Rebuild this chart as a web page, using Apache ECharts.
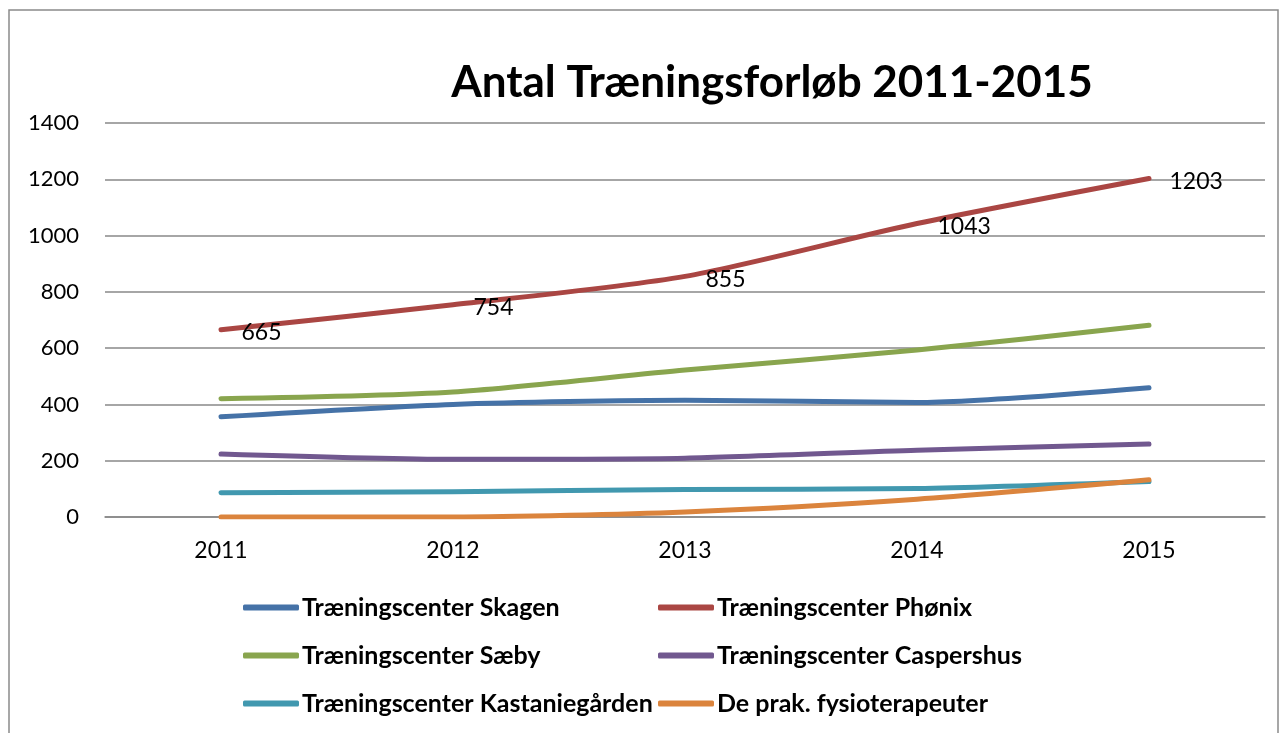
<!DOCTYPE html>
<html>
<head>
<meta charset="utf-8">
<script src="https://cdn.jsdelivr.net/npm/echarts@6/dist/echarts.min.js"></script>
<style>
  html, body { margin: 0; padding: 0; background: #fff; }
  #chart { width: 1284px; height: 733px; }
</style>
</head>
<body>
<div id="chart"></div>
<script>
// data
const years = ["2011", "2012", "2013", "2014", "2015"];
const skagen = [356, 400, 415, 407, 459];
const phonix = [665, 754, 855, 1043, 1203];
const saeby = [420, 444, 522, 593, 681];
const caspershus = [224, 205, 209, 237, 259];
const kastanie = [86, 90, 98, 101, 126];
const fysio = [0, 0, 18, 63, 132];

const FONT = "Lato";

const seriesDefs = [
  { name: "Træningscenter Skagen", data: skagen, color: "#4572A7" },
  { name: "Træningscenter Phønix", data: phonix, color: "#AA4643", labels: true },
  { name: "Træningscenter Sæby", data: saeby, color: "#89A54E" },
  { name: "Træningscenter Caspershus", data: caspershus, color: "#71588F" },
  { name: "Træningscenter Kastaniegården", data: kastanie, color: "#4198AF" },
  { name: "De prak. fysioterapeuter", data: fysio, color: "#DB843D" }
];

const legendBase = {
  orient: "vertical",
  top: 590,
  itemGap: 23,
  itemWidth: 56,
  itemHeight: 6,
  icon: "roundRect",
  textStyle: { fontFamily: FONT, fontWeight: "bold", fontSize: 25, color: "#000", padding: [0, 0, 0, -2] }
};

const chart = echarts.init(document.getElementById("chart"), null, { renderer: "canvas" });
chart.setOption({
  animation: false,
  title: {
    text: "Antal Træningsforløb 2011-2015",
    left: 767,
    textAlign: "center",
    top: 56,
    textStyle: { fontFamily: FONT, fontWeight: "bold", fontSize: 44, color: "#000" }
  },
  graphic: [{
    type: "rect",
    shape: { x: 9, y: 10, width: 1269, height: 740 },
    style: { fill: "none", stroke: "#8a8a8a", lineWidth: 1.5 },
    silent: true
  }],
  legend: [
    Object.assign({}, legendBase, { left: 238, data: [seriesDefs[0].name, seriesDefs[2].name, seriesDefs[4].name] }),
    Object.assign({}, legendBase, { left: 653, data: [seriesDefs[1].name, seriesDefs[3].name, seriesDefs[5].name] })
  ],
  grid: { left: 105, right: 19, top: 123, bottom: 216, containLabel: false },
  xAxis: {
    type: "category",
    data: years,
    boundaryGap: true,
    axisLine: { lineStyle: { color: "#888", width: 1.5 } },
    axisTick: { show: false },
    axisLabel: { fontFamily: FONT, fontSize: 23, color: "#000", margin: 22 }
  },
  yAxis: {
    type: "value",
    min: 0,
    max: 1400,
    interval: 200,
    axisLine: { show: false },
    axisTick: { show: false },
    axisLabel: { fontFamily: FONT, fontSize: 22, color: "#000", margin: 26, formatter: (v) => String(v) },
    splitLine: { lineStyle: { color: "#888", width: 1.5 } }
  },
  series: seriesDefs.map((s) => ({
    name: s.name,
    type: "line",
    data: s.data,
    smooth: 0.25,
    showSymbol: !!s.labels,
    symbol: "circle",
    symbolSize: 1,
    color: s.color,
    itemStyle: { color: s.color },
    lineStyle: { color: s.color, width: 5, cap: "round", join: "round" },
    label: s.labels ? {
      show: true,
      position: "right",
      distance: 20,
      offset: [0, 3],
      fontFamily: FONT,
      fontSize: 23,
      color: "#000"
    } : { show: false }
  }))
});
</script>
</body>
</html>
